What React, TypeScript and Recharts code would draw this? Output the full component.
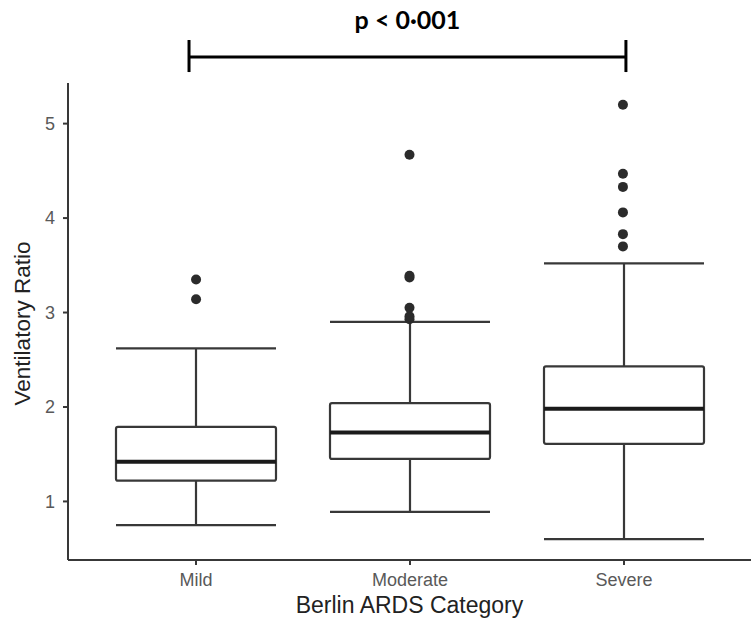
import React from 'react';
import { Bar, ComposedChart, ReferenceLine, Scatter, XAxis, YAxis } from 'recharts';

// box plot summary per Berlin ARDS category
const categories = ['Mild', 'Moderate', 'Severe'];
const whiskerLow = [0.75, 0.89, 0.6];
const lowerQuartile = [1.22, 1.45, 1.61];
const medians = [1.42, 1.73, 1.98];
const upperQuartile = [1.79, 2.04, 2.43];
const whiskerHigh = [2.62, 2.9, 3.52];
const outliers = [
    [3.14, 3.35],
    [2.93, 2.96, 3.05, 3.37, 3.39, 4.67],
    [3.7, 3.83, 4.06, 4.33, 4.47, 5.2],
];
const yTicks = [1, 2, 3, 4, 5];

// significance bracket (x on the numeric helper axis, 1 = first category)
const bracketStart = 0.967;
const bracketEnd = 3.014;
const bracketLevel = 5.705;
const bracketTop = 5.885;
const bracketBottom = 5.546;
const pValueLabel = 'p < 0·001';

const rows = categories.map((name, i) => ({
    name,
    lo: whiskerLow[i],
    q1: lowerQuartile[i],
    med: medians[i],
    q3: upperQuartile[i],
    hi: whiskerHigh[i],
}));

const outlierPoints = outliers.flatMap((list, i) => list.map((v) => ({ x: i + 1, y: v })));

const LINE = '#383838';

const BoxShape = (props: any) => {
    const { x, y, width, height, payload } = props;
    const top = Math.min(y, y + height);
    const ppu = Math.abs(height) / (payload.hi - payload.lo);
    const py = (v: number) => top + (payload.hi - v) * ppu;
    const cx = x + width / 2;

    return (
        <g>
            <line x1={cx} x2={cx} y1={py(payload.hi)} y2={py(payload.q3)} stroke={LINE} strokeWidth={2.2} />
            <line x1={cx} x2={cx} y1={py(payload.q1)} y2={py(payload.lo)} stroke={LINE} strokeWidth={2.2} />
            <line x1={x} x2={x + width} y1={py(payload.hi)} y2={py(payload.hi)} stroke={LINE} strokeWidth={2.2} />
            <line x1={x} x2={x + width} y1={py(payload.lo)} y2={py(payload.lo)} stroke={LINE} strokeWidth={2.2} />
            <rect
                x={x}
                y={py(payload.q3)}
                width={width}
                height={py(payload.q1) - py(payload.q3)}
                rx={2}
                fill="#ffffff"
                stroke={LINE}
                strokeWidth={2.2}
            />
            <line x1={x} x2={x + width} y1={py(payload.med)} y2={py(payload.med)} stroke="#1a1a1a" strokeWidth={4} />
        </g>
    );
};

const OutlierDot = (props: any) => <circle cx={props.cx} cy={props.cy} r={5} fill="#2b2b2b" />;

const YTitle = (props: any) => {
    const { viewBox } = props;
    const cy = viewBox.y + viewBox.height / 2 + 2;
    return (
        <text
            x={30}
            y={cy}
            transform={`rotate(-90, 30, ${cy})`}
            textAnchor="middle"
            fontFamily="Liberation Sans, Arial, sans-serif"
            fontSize={22.5}
            fill="#222222"
        >
            Ventilatory Ratio
        </text>
    );
};

const XTitle = (props: any) => {
    const { viewBox } = props;
    return (
        <text
            x={viewBox.x + viewBox.width / 2}
            y={viewBox.y + 53}
            textAnchor="middle"
            fontFamily="Liberation Sans, Arial, sans-serif"
            fontSize={23}
            fill="#222222"
        >
            Berlin ARDS Category
        </text>
    );
};

const tickStyle = { fontFamily: 'Liberation Sans, Arial, sans-serif', fontSize: 18, fill: '#595959' };

export default function App() {
    return (
        <div style={{ position: 'absolute', left: 0, top: 0, width: 751, height: 629, background: '#ffffff' }}>
            <ComposedChart width={751} height={629} data={rows} margin={{ top: 83, right: 0, bottom: 0, left: 0 }}>
                <XAxis
                    dataKey="name"
                    type="category"
                    height={69}
                    padding={{ left: 21, right: 20 }}
                    axisLine={{ stroke: LINE, strokeWidth: 2 }}
                    tickLine={{ stroke: LINE, strokeWidth: 2 }}
                    tickSize={5}
                    tickMargin={8}
                    tick={tickStyle}
                    label={(p: any) => <XTitle {...p} />}
                />
                <XAxis xAxisId="num" dataKey="x" type="number" domain={[0.4, 3.6]} allowDataOverflow hide height={0} />
                <YAxis
                    type="number"
                    width={68}
                    domain={[0.38, 5.43]}
                    ticks={yTicks}
                    allowDataOverflow
                    axisLine={{ stroke: LINE, strokeWidth: 2 }}
                    tickLine={{ stroke: LINE, strokeWidth: 2 }}
                    tickSize={5}
                    tickMargin={8}
                    tick={tickStyle}
                    label={(p: any) => <YTitle {...p} />}
                />
                <Bar
                    dataKey={(d: any) => [d.lo, d.hi]}
                    barSize={160}
                    shape={(p: any) => <BoxShape {...p} />}
                    isAnimationActive={false}
                />
                <Scatter
                    xAxisId="num"
                    data={outlierPoints}
                    dataKey="y"
                    shape={(p: any) => <OutlierDot {...p} />}
                    isAnimationActive={false}
                />
                <ReferenceLine
                    xAxisId="num"
                    segment={[
                        { x: bracketStart, y: bracketLevel },
                        { x: bracketEnd, y: bracketLevel },
                    ]}
                    ifOverflow="visible"
                    stroke="#000000"
                    strokeWidth={3}
                    label={{
                        value: pValueLabel,
                        position: 'top',
                        offset: 28,
                        fontFamily: 'Lato, sans-serif',
                        fontWeight: 700,
                        fontSize: 25,
                        fill: '#000000',
                    }}
                />
                <ReferenceLine
                    xAxisId="num"
                    segment={[
                        { x: bracketStart, y: bracketBottom },
                        { x: bracketStart, y: bracketTop },
                    ]}
                    ifOverflow="visible"
                    stroke="#000000"
                    strokeWidth={3}
                />
                <ReferenceLine
                    xAxisId="num"
                    segment={[
                        { x: bracketEnd, y: bracketBottom },
                        { x: bracketEnd, y: bracketTop },
                    ]}
                    ifOverflow="visible"
                    stroke="#000000"
                    strokeWidth={3}
                />
            </ComposedChart>
        </div>
    );
}
